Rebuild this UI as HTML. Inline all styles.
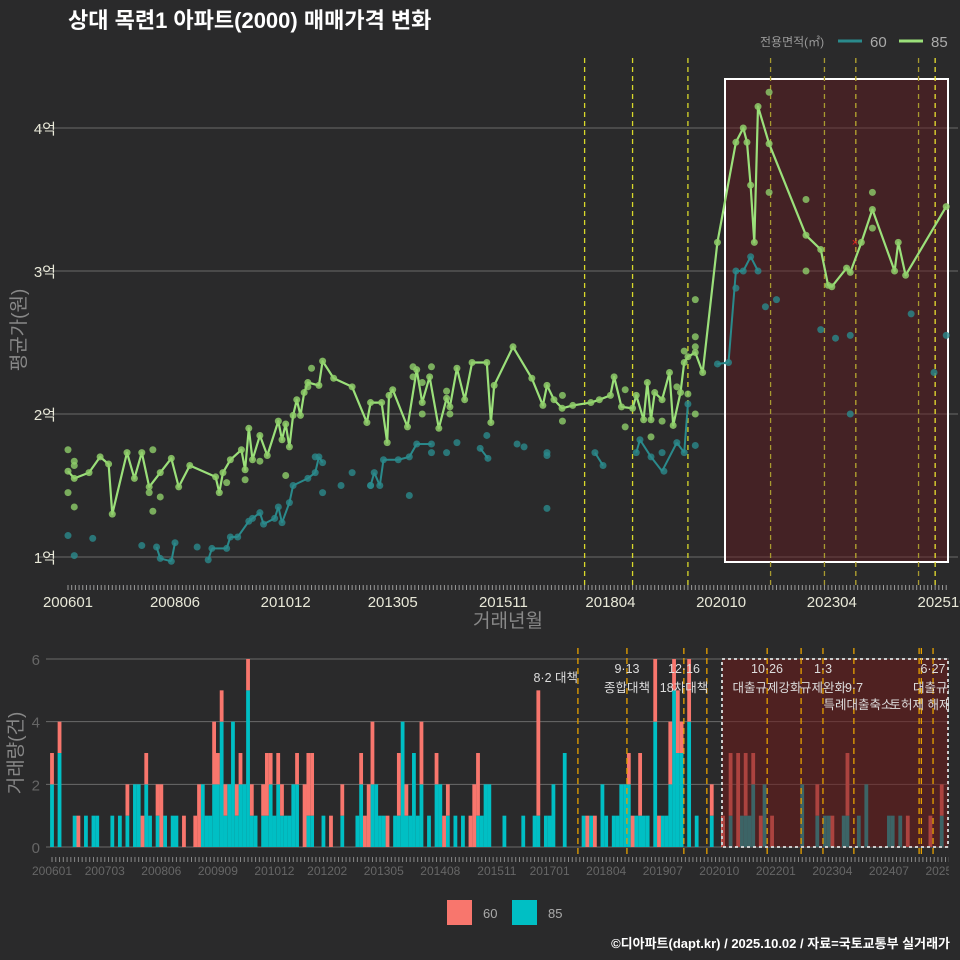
<!DOCTYPE html>
<html><head><meta charset="utf-8">
<style>
html,body{margin:0;padding:0;background:#2a2a2b;}
svg{display:block;font-family:"Liberation Sans","Noto Sans CJK KR",sans-serif;}
</style></head>
<body>
<svg id="chart" width="960" height="960" viewBox="0 0 960 960">
<defs><clipPath id="botClip"><rect x="0" y="640" width="949" height="240"/></clipPath></defs>
<rect x="0" y="0" width="960" height="960" fill="#2a2a2b"/>
<text x="68" y="28" fill="#ffffff" font-size="22" font-weight="bold">상대 목련1 아파트(2000) 매매가격 변화</text>
<g>
<text x="760" y="46" fill="#999" font-size="12">전용면적(㎡)</text>
<line x1="838" y1="41" x2="862" y2="41" stroke="#2a8a8c" stroke-width="3"/>
<text x="870" y="47" fill="#aaa" font-size="15">60</text>
<line x1="899" y1="41" x2="923" y2="41" stroke="#9be07a" stroke-width="3"/>
<text x="931" y="47" fill="#aaa" font-size="15">85</text>
</g>
<g id="topPanel"></g>
<g id="botPanel" clip-path="url(#botClip)"></g>
<text x="508" y="627" fill="#888" font-size="19" text-anchor="middle">거래년월</text>
<text transform="translate(25,330) rotate(-90)" fill="#888" font-size="19" text-anchor="middle">평균가(원)</text>
<text transform="translate(22,753) rotate(-90)" fill="#888" font-size="19" text-anchor="middle">거래량(건)</text>
<g>
<rect x="447" y="900" width="25" height="25" fill="#f8766d"/>
<text x="483" y="918" fill="#aaa" font-size="13">60</text>
<rect x="512" y="900" width="25" height="25" fill="#00bfc4"/>
<text x="548" y="918" fill="#aaa" font-size="13">85</text>
</g>
<text x="950" y="948" fill="#fff" font-size="13" font-weight="bold" text-anchor="end">©디아파트(dapt.kr) / 2025.10.02 / 자료=국토교통부 실거래가</text>
</svg>
<script>
// ---- data (months since 2006-01) ----
const line85M=[0,1.7,5.7,8.7,11,12,16,18,20,22,25,28,30,33,40,41,42,44,47,48,49,50,52,54,57,58,59,60,61,62,63,64,65,68,69,72,77,81,82,85,86.5,87,88,92,94.5,96,98,100.5,102.6,103.5,105.4,107.5,109.5,113.5,114.6,115.5,120.6,125.7,128.7,129.8,131.7,133.9,136.8,141.7,144,147,148,150,153,154,156,157,158,159,161,163,164,166,167,168,170,172,176,181,183,184,185,186,187,190,200,204,206,207,211,212,215,218,224,225,227,238];
const line85V=[1.60,1.55,1.59,1.70,1.65,1.30,1.73,1.55,1.73,1.49,1.59,1.69,1.49,1.64,1.56,1.45,1.59,1.68,1.75,1.61,1.90,1.68,1.85,1.71,1.95,1.82,1.93,1.77,1.99,2.10,1.99,2.15,2.22,2.20,2.37,2.25,2.19,1.94,2.08,2.08,1.80,2.13,2.17,1.91,2.31,2.08,2.26,1.90,2.11,2.05,2.32,2.10,2.36,2.36,1.94,2.20,2.47,2.25,2.06,2.20,2.10,2.04,2.06,2.08,2.10,2.13,2.26,2.05,2.04,2.13,1.96,2.22,1.96,2.15,2.10,2.29,1.92,2.15,2.36,2.40,2.43,2.29,3.20,3.90,4.00,3.90,3.60,3.20,4.15,3.89,3.25,3.15,2.90,2.89,3.02,2.99,3.20,3.43,3.00,3.20,2.97,3.45];
const extra85M=[0,1.7,1.7,0,1.7,23,22,25,23,43,48,52,59,66,65,93.5,98.5,96,93.5,96,103.5,102.6,134,134,151,151,158,161,165,167,170,170,168,170,170,190,190,200,200,218,218];
const extra85V=[1.75,1.67,1.64,1.45,1.35,1.75,1.45,1.42,1.32,1.52,1.54,1.67,1.57,2.32,2.19,2.33,2.33,2.22,2.26,2.0,2.0,2.16,1.95,2.13,2.17,1.91,1.84,1.95,2.19,2.44,2.47,2.0,2.14,2.80,2.54,4.25,3.55,3.50,3.0,3.55,3.30];
const pts60M=[0,1.7,6.7,20,24,25,28,29,35,38,39,43,44,46,49,50,52,53,56,57,58,60,61,65,67,67,68,69,69,74,77,82,82,84.5,83,85.5,89.5,92.5,92.5,94.5,98.5,98.5,102.6,105.4,113.5,111.7,113.8,121.7,123.6,129.8,129.8,129.8,142.8,145,154,155,158,161,161.5,165,167,168,170,176,179,181,183,185,187,181,189,192,204,208,212,212,228.5,234.7,238];
const pts60V=[1.15,1.01,1.13,1.08,1.07,0.99,0.97,1.10,1.07,0.98,1.06,1.06,1.14,1.14,1.25,1.27,1.31,1.23,1.27,1.35,1.24,1.38,1.50,1.55,1.59,1.70,1.70,1.66,1.45,1.50,1.59,1.50,1.50,1.50,1.59,1.68,1.68,1.70,1.43,1.79,1.79,1.73,1.73,1.80,1.85,1.76,1.69,1.79,1.77,1.73,1.71,1.34,1.73,1.64,1.73,1.82,1.70,1.73,1.60,1.80,1.73,2.07,1.78,2.35,2.36,3.00,3.00,3.10,3.00,2.88,2.75,2.80,2.59,2.53,2.55,2.00,2.70,2.29,2.55];
const line60M=[24,25,28,29,38,39,43,44,46,49,50,52,53,56,57,58,60,61,65,67,68,69,82,83,84.5,85.5,89.5,92.5,94.5,98.5,111.7,113.8,142.8,145,154,155,158,161,165,167,168,176,179,181,183,185,187];
const line60V=[1.07,0.99,0.97,1.10,0.98,1.06,1.06,1.14,1.14,1.25,1.27,1.31,1.23,1.27,1.35,1.24,1.38,1.50,1.55,1.59,1.70,1.66,1.50,1.59,1.50,1.68,1.68,1.70,1.79,1.79,1.76,1.69,1.73,1.64,1.73,1.82,1.70,1.60,1.80,1.73,2.07,2.35,2.36,3.00,3.00,3.10,3.00];
const yTicksTop=[1,2,3,4];
const yTickLabelsTop=["1억","2억","3억","4억"];
const xTickMonthsTop=[0,29,59,88,118,147,177,207,237];
const xTickLabelsTop=["200601","200806","201012","201305","201511","201804","202010","202304","202510"];
const eventMonthsTop=[140,153,168,190.4,205,213.5,230.5,235];
const eventColorsTop=["#d8d82a","#d8d82a","#d8d82a","#a89a30","#a89a30","#b8a830","#a89a30","#e8e030"];
const vol85M=[0,2,6,9,11,12,16,18,20,22,23,25,26,28,30,32,33,40,41,42,43,44,45,46,47,48,49,50,51,52,53,54,56,57,58,59,60,61,62,63,64,65,68,69,72,77,81,82,85,86,87,88,91,92,93,94,95,96,97,98,100,102,103,105,107,109,113,114,115,116,120,125,128,129,131,132,133,136,141,143,146,147,149,150,151,152,153,155,156,157,158,160,162,163,164,165,166,167,169,171,175,180,183,184,185,186,189,199,203,205,206,210,211,214,216,222,223,225,236];
const vol85V=[2,3,1,1,1,1,1,1,1,2,2,2,1,1,1,1,1,2,1,1,2,2,4,1,2,4,1,2,2,5,1,1,1,1,2,1,2,1,1,1,2,2,1,1,1,1,1,2,2,2,1,1,1,1,4,1,1,3,1,2,1,2,2,1,1,1,1,1,2,2,1,1,1,1,1,1,2,3,1,1,2,1,1,1,2,2,2,1,1,1,1,4,1,1,2,5,3,3,4,1,1,1,1,1,1,2,2,2,1,1,1,1,1,1,2,1,1,1,1];
const vol60M=[0,2,7,20,24,25,28,29,35,38,39,43,44,45,46,49,50,52,53,56,57,58,60,61,65,67,68,69,74,77,82,83,84,85,89,92,94,98,102,104,105,111,112,113,129,142,144,153,154,156,160,161,164,165,166,167,169,175,178,180,182,184,186,188,191,203,207,211,227,233,236];
const vol60V=[1,1,1,1,1,1,1,2,1,1,2,2,1,1,1,1,1,1,1,1,2,1,1,1,1,2,2,2,1,1,1,1,2,2,1,2,1,2,1,1,1,1,2,2,4,1,1,1,1,2,2,1,2,1,2,1,2,1,1,2,3,2,1,1,1,1,1,2,1,1,1];
const yTicksBot=[0,2,4,6];
const xTickMonthsBot=[0,14,29,44,59,73,88,103,118,132,147,162,177,192,207,222,237];
const xTickLabelsBot=["200601","200703","200806","200909","201012","201202","201305","201408","201511","201701","201804","201907","202010","202201","202304","202407","202510"];
const eventMonthsBot=[139.5,152.5,167.6,173.7,189.7,198.7,204.5,212.7,230,230.6,233.7];
const eventLabels1=[["8·2 대책",578,682,"end"],["9·13",627,673,"middle"],["종합대책",627,692,"middle"],["12·16",684,673,"middle"],["18차대책",684,692,"middle"],["10·26",767,673,"middle"],["대출규제강화",767,692,"middle"],["1·3",823,673,"middle"],["규제완화",823,692,"middle"],["9·7",854,692,"middle"],["특례대출축소",858,709,"middle"],["토허제 해제",920,709,"middle"],["6·27",933,673,"middle"],["대출규제",936,692,"middle"]];

const NS="http://www.w3.org/2000/svg";
function mk(parent,tag,attrs){const e=document.createElementNS(NS,tag);for(const k in attrs)e.setAttribute(k,attrs[k]);parent.appendChild(e);return e;}
const xT=m=>68+m*3.69, yT=v=>557-(v-1)*143;
const xB=m=>52+m*3.77, yB=v=>847-v*31.33;

const gTop=document.getElementById('topPanel');
yTicksTop.forEach((v,i)=>{
 let l=mk(gTop,'line',{x1:38,x2:958,y1:yT(v),y2:yT(v),stroke:'#6a6a6a','stroke-width':1});
 
 
 let t=mk(gTop,'text',{x:56,y:yT(v)+6,fill:'#e8e8d8','font-size':15,'text-anchor':'end'});
 t.textContent=yTickLabelsTop[i];
 
 
});
let sh=mk(gTop,'rect',{x:725,y:79,width:223,height:483,fill:'rgba(100,25,30,0.45)',stroke:'#fff','stroke-width':2});


eventMonthsTop.forEach((m,i)=>{
 let l=mk(gTop,'line',{x1:xT(m),x2:xT(m),y1:58,y2:585,stroke:eventColorsTop[i],'stroke-width':1.3,'stroke-dasharray':'5,4'});
 
 
});
for(let m=0;m<=238;m++){mk(gTop,'line',{x1:xT(m),x2:xT(m),y1:585,y2:590,stroke:'#999','stroke-width':1});}
xTickMonthsTop.forEach((m,i)=>{
 let t=mk(gTop,'text',{x:xT(m),y:607,fill:'#e8e8d8','font-size':15,'text-anchor':'middle'});
 t.textContent=xTickLabelsTop[i];
 
 
});
for(let i=1;i<line60M.length;i++){
 if(line60M[i]-line60M[i-1]<=4.5){
  let l=mk(gTop,'line',{x1:xT(line60M[i-1]),y1:yT(line60V[i-1]),x2:xT(line60M[i]),y2:yT(line60V[i]),stroke:'#2a8a8c','stroke-width':2});
  
  
 }
}
pts60M.forEach((m,i)=>{
 let c=mk(gTop,'circle',{cx:xT(m),cy:yT(pts60V[i]),r:3.5,fill:'#2a8a8c','fill-opacity':0.8});
 
 
});
let d=line85M.map((m,i)=>(i?'L':'M')+xT(m).toFixed(1)+','+yT(line85V[i]).toFixed(1)).join('');
let p=mk(gTop,'path',{d:d,fill:'none',stroke:'#9be07a','stroke-width':2.2,'stroke-linejoin':'round'});


line85M.forEach((m,i)=>{
 let c=mk(gTop,'circle',{cx:xT(m),cy:yT(line85V[i]),r:3.5,fill:'#8fce6a','fill-opacity':0.85});
 
 
});
extra85M.forEach((m,i)=>{
 let c=mk(gTop,'circle',{cx:xT(m),cy:yT(extra85V[i]),r:3.5,fill:'#8fce6a','fill-opacity':0.8});
 
 
});
let mx=mk(gTop,'text',{x:855,y:246,fill:'#e02020','font-size':11,'text-anchor':'middle'});
mx.textContent='×';



const gBot=document.getElementById('botPanel');
yTicksBot.forEach(v=>{
 let l=mk(gBot,'line',{x1:46,x2:958,y1:yB(v),y2:yB(v),stroke:'#6a6a6a','stroke-width':1});
 
 
 let t=mk(gBot,'text',{x:40,y:yB(v)+6,fill:'#666','font-size':15,'text-anchor':'end'});
 t.textContent=String(v);
 
 
});
const base={};
vol85M.forEach((m,i)=>{
 let r=mk(gBot,'rect',{x:xB(m)-1.9,y:yB(vol85V[i]),width:3.8,height:yB(0)-yB(vol85V[i]),fill:'#00bfc4'});
 
 
 base[m]=vol85V[i];
});
vol60M.forEach((m,i)=>{
 const b=base[m]||0;
 let r=mk(gBot,'rect',{x:xB(m)-1.9,y:yB(b+vol60V[i]),width:3.8,height:yB(b)-yB(b+vol60V[i]),fill:'#f8766d'});
 
 
});
let sh2=mk(gBot,'rect',{x:722,y:659,width:226,height:188,fill:'rgba(110,25,25,0.55)',stroke:'#ccc','stroke-width':2,'stroke-dasharray':'3,3'});


eventMonthsBot.forEach(m=>{
 let l=mk(gBot,'line',{x1:xB(m),x2:xB(m),y1:648,y2:857,stroke:'#e6a000','stroke-width':1.3,'stroke-dasharray':'6,4'});
 
 
});
eventLabels1.forEach(e=>{
 let t=mk(gBot,'text',{x:e[1],y:e[2],fill:'#ddd','font-size':12.5,'text-anchor':e[3]});
 t.textContent=e[0];
 
 
});
for(let m=0;m<=238;m++){mk(gBot,'line',{x1:xB(m),x2:xB(m),y1:857,y2:862,stroke:'#888','stroke-width':1});}
xTickMonthsBot.forEach((m,i)=>{
 let t=mk(gBot,'text',{x:xB(m),y:875,fill:'#666','font-size':12,'text-anchor':'middle'});
 t.textContent=xTickLabelsBot[i];
 
 
});
</script>
</body></html>
